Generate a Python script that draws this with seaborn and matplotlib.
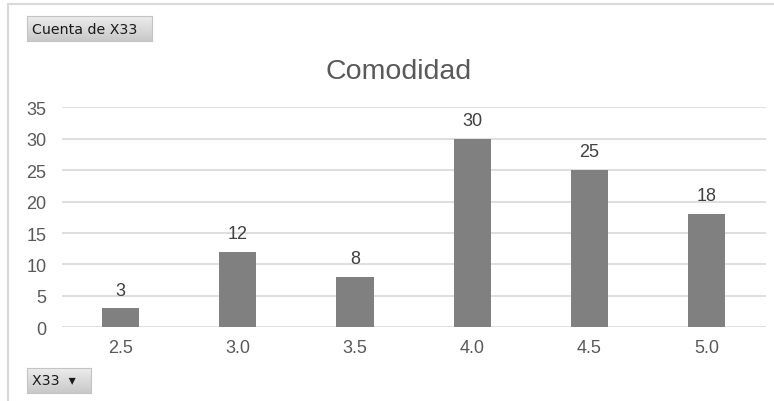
import matplotlib
matplotlib.use("Agg")
import matplotlib.pyplot as plt
import seaborn as sns
import pandas as pd
import numpy as np
from matplotlib.lines import Line2D

# data
categories = ["2.5", "3.0", "3.5", "4.0", "4.5", "5.0"]
counts = [3, 12, 8, 30, 25, 18]
y_ticks = [0, 5, 10, 15, 20, 25, 30, 35]

title = "Comodidad"
value_button = "Cuenta de X33"
axis_button = "X33"

sns.set_theme(style="white")
plt.rcParams["font.family"] = ["Liberation Sans", "DejaVu Sans"]

df = pd.DataFrame({"X33": categories, "count": counts})

W, H = 774, 402
fig = plt.figure(figsize=(W / 100, H / 100), dpi=100)
ax = fig.add_axes([61.65 / W, 1 - 328.3 / H, 703.85 / W, 220 / H])

sns.barplot(data=df, x="X33", y="count", order=categories, color="#808080",
            saturation=1, width=0.318, linewidth=0, ax=ax, zorder=3)

ax.set_ylim(0, 35)
ax.set_xlim(-0.5, len(categories) - 0.5)
ax.set_yticks(y_ticks)
ax.yaxis.grid(True, color="#d9d9d9", linewidth=1.2, zorder=0)
ax.set_axisbelow(True)
for s in ax.spines.values():
    s.set_visible(False)
ax.tick_params(axis="y", length=0, pad=11, labelsize=13, labelcolor="#595959")
ax.tick_params(axis="x", length=0, pad=8.5, labelsize=13, labelcolor="#595959")
ax.set_xlabel("")
ax.set_ylabel("")

for c in ax.containers:
    ax.bar_label(c, fmt="%d", padding=7, fontsize=13, color="#404040")

fig.text(399 / W, 1 - 72 / H, title, ha="center", va="center",
         fontsize=20.5, color="#595959")

# chart frame edges (top and left)
fig.add_artist(Line2D([8 / W, 8 / W], [0, 1 - 5 / H], color="#d9d9d9", lw=1.5))
fig.add_artist(Line2D([8 / W, 1], [1 - 5 / H, 1 - 5 / H], color="#d9d9d9", lw=1.5))

# pivot field buttons with a light vertical gradient
grad = np.linspace(0, 1, 32).reshape(-1, 1)
def button(x0, y0, x1, y1, label):
    bax = fig.add_axes([x0 / W, 1 - y1 / H, (x1 - x0) / W, (y1 - y0) / H])
    bax.imshow(grad, aspect="auto", cmap=matplotlib.colors.LinearSegmentedColormap.from_list(
        "btn", ["#ececec", "#c9c9c9"]), extent=(0, 1, 0, 1))
    bax.set_xticks([])
    bax.set_yticks([])
    for s in bax.spines.values():
        s.set_color("#c4c4c4")
        s.set_linewidth(0.8)
    bax.text(5 / (x1 - x0), 0.5, label, ha="left", va="center", transform=bax.transAxes,
             fontsize=10.2, color="#1a1a1a", family=["DejaVu Sans"])

button(27, 17, 152, 42, value_button)
button(27, 369, 91, 394, axis_button + "  \u25be")

fig.savefig("out.png", dpi=100)
